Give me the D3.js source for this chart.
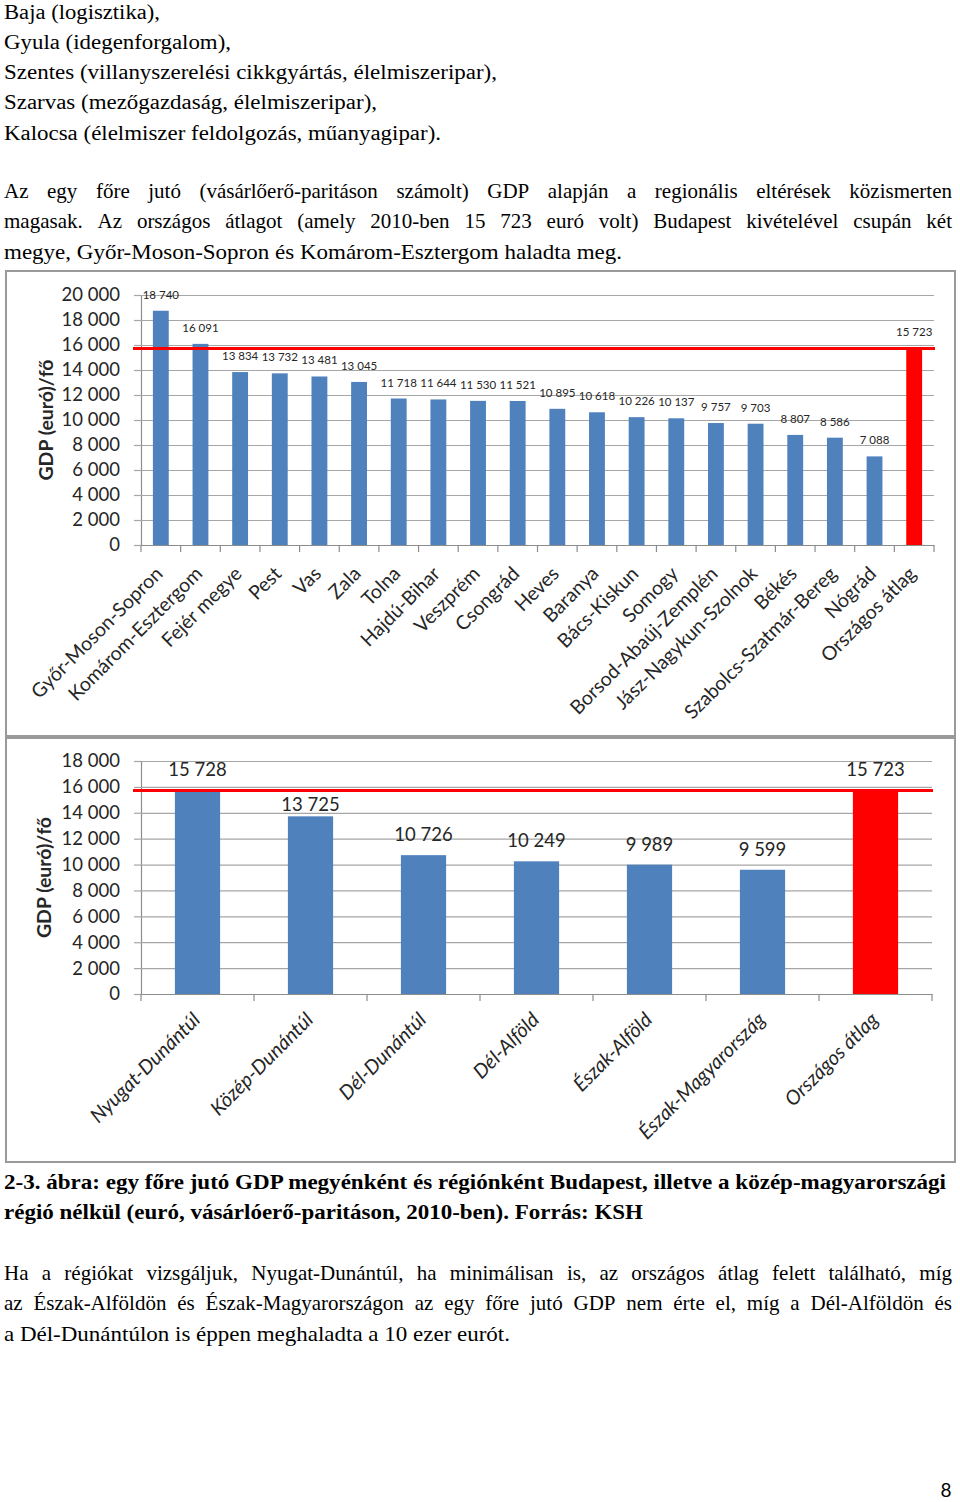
<!DOCTYPE html>
<html><head><meta charset="utf-8">
<script src="https://cdn.jsdelivr.net/npm/d3@7"></script>
<style>
html,body{margin:0;padding:0;background:#fff;}
svg{display:block;}
</style></head><body>
<svg id="page" width="960" height="1502"></svg>
<script>
// ---------- data ----------
const countyNames = ["Győr-Moson-Sopron","Komárom-Esztergom","Fejér megye","Pest","Vas","Zala","Tolna","Hajdú-Bihar","Veszprém","Csongrád","Heves","Baranya","Bács-Kiskun","Somogy","Borsod-Abaúj-Zemplén","Jász-Nagykun-Szolnok","Békés","Szabolcs-Szatmár-Bereg","Nógrád","Országos átlag"];
const countyValues = [18740,16091,13834,13732,13481,13045,11718,11644,11530,11521,10895,10618,10226,10137,9757,9703,8807,8586,7088,15723];
const countyTicks = [0,2000,4000,6000,8000,10000,12000,14000,16000,18000,20000];

const regionNames = ["Nyugat-Dunántúl","Közép-Dunántúl","Dél-Dunántúl","Dél-Alföld","Észak-Alföld","Észak-Magyarország","Országos átlag"];
const regionValues = [15728,13725,10726,10249,9989,9599,15723];
const regionTicks = [0,2000,4000,6000,8000,10000,12000,14000,16000,18000];

const nationalAverage = 15723;
const yTitle = "GDP (euró)/fő";

const introLines = ["Baja (logisztika),","Gyula (idegenforgalom),","Szentes (villanyszerelési cikkgyártás, élelmiszeripar),","Szarvas (mezőgazdaság, élelmiszeripar),","Kalocsa (élelmiszer feldolgozás, műanyagipar)."];
const para1Lines = ["Az egy főre jutó (vásárlőerő-paritáson számolt) GDP alapján a regionális eltérések közismerten","magasak. Az országos átlagot (amely 2010-ben 15 723 euró volt) Budapest kivételével csupán két","megye, Győr-Moson-Sopron és Komárom-Esztergom haladta meg."];
const captionLines = ["2-3. ábra: egy főre jutó GDP megyénként és régiónként Budapest, illetve a közép-magyarországi","régió nélkül (euró, vásárlóerő-paritáson, 2010-ben). Forrás: KSH"];
const para2Lines = ["Ha a régiókat vizsgáljuk, Nyugat-Dunántúl, ha minimálisan is, az országos átlag felett található, míg","az Észak-Alföldön és Észak-Magyarországon az egy főre jutó GDP nem érte el, míg a Dél-Alföldön és","a Dél-Dunántúlon is éppen meghaladta a 10 ezer eurót."];
const pageNumber = "8";

// ---------- drawing ----------
const svg = d3.select('#page');
svg.append('rect').attr('width',960).attr('height',1502).attr('fill','#fff');
const fmt = d3.formatLocale({decimal:',', thousands:'\u00a0', grouping:[3], currency:['','']}).format(',d');
const BLUE = '#4f81bd', RED = '#ff0000';
const CHART_FONT = 'Lato, "Open Sans", sans-serif';

function textBlock(lines, startBaseline, opts){
  lines.forEach((line, i) => {
    const yb = startBaseline + i*30.3;
    const t = svg.append('text')
      .attr('x', 4).attr('y', yb)
      .attr('font-family','"Liberation Serif","Times New Roman",serif')
      .attr('font-size', opts.size || 21)
      .attr('font-weight', opts.bold ? 'bold' : 'normal')
      .attr('fill','#000');
    const target = opts.widths[i];
    if (opts.justify && opts.justify[i]) {
      const words = line.split(' ');
      const spans = words.map(w => t.append('tspan').text(w));
      const widths = spans.map(s => s.node().getComputedTextLength());
      const sum = d3.sum(widths);
      const gap = (target - sum) / (words.length - 1);
      let cx = 4;
      spans.forEach((s, k) => { s.attr('x', cx); cx += widths[k] + gap; });
    } else {
      t.text(line);
      t.attr('textLength', target).attr('lengthAdjust','spacingAndGlyphs');
    }
  });
}

textBlock(introLines, 18.5, {size:20.5, widths:[156,227,493,373,437]});
textBlock(para1Lines, 198, {widths:[948,948,618], justify:[true,true,false]});
textBlock(captionLines, 1189, {bold:true, widths:[942,639]});
textBlock(para2Lines, 1280, {widths:[948,948,506], justify:[true,true,false]});

svg.append('text').attr('x',946).attr('y',1497).attr('text-anchor','middle')
  .attr('font-family',CHART_FONT).attr('font-size',19).attr('fill','#000').text(pageNumber);

function drawChart(o){
  const g = svg.append('g');
  g.append('rect').attr('x',o.frame[0]).attr('y',o.frame[1]).attr('width',o.frame[2]).attr('height',o.frame[3])
    .attr('fill','#fff').attr('stroke','#9a9a9a').attr('stroke-width',2);

  const x = d3.scaleBand().domain(o.names).range([o.left,o.right]).paddingInner(0.6).paddingOuter(0.3);
  const y = d3.scaleLinear().domain([0, d3.max(o.ticks)]).range([o.bottom,o.top]);
  const w = o.right - o.left;

  // y axis + gridlines
  const ya = g.append('g').attr('transform',`translate(${o.left},0)`)
    .call(d3.axisLeft(y).tickValues(o.ticks).tickFormat(fmt).tickSizeInner(7).tickSizeOuter(0).tickPadding(14));
  ya.select('.domain').attr('stroke','#8c8c8c').attr('stroke-width',1.2);
  ya.selectAll('.tick line').attr('stroke','#a6a6a6').attr('stroke-width',1.2);
  ya.selectAll('.tick').append('line').attr('x1',0).attr('x2',w).attr('stroke','#a6a6a6').attr('stroke-width',1.2);
  ya.selectAll('.tick text').attr('font-family',CHART_FONT).attr('font-size',18.5).attr('fill','#262626');

  // x axis
  const xa = g.append('g').attr('transform',`translate(0,${o.bottom})`)
    .call(d3.axisBottom(x).tickSize(0).tickPadding(0));
  xa.select('.domain').attr('stroke','#8c8c8c').attr('stroke-width',1.2);
  xa.selectAll('.tick text')
    .attr('x',0).attr('y',0).attr('dy',0)
    .attr('transform',`translate(${o.labelDx},${o.labelDy}) rotate(-45)`)
    .attr('text-anchor','end')
    .attr('font-family',CHART_FONT).attr('font-size',o.xLabelSize)
    .attr('font-style',o.italic ? 'italic' : 'normal')
    .attr('fill','#262626');
  const step = x.step();
  g.append('g').selectAll('line').data(d3.range(o.names.length+1)).join('line')
    .attr('x1',i=>o.left+i*step).attr('x2',i=>o.left+i*step)
    .attr('y1',o.bottom).attr('y2',o.bottom+7)
    .attr('stroke','#8c8c8c').attr('stroke-width',1.2);

  // bars
  const last = o.names.length - 1;
  g.append('g').selectAll('rect').data(o.values).join('rect')
    .attr('x',(d,i)=>x(o.names[i])).attr('width',x.bandwidth())
    .attr('y',d=>y(d)).attr('height',d=>o.bottom - y(d))
    .attr('fill',(d,i)=> i===last ? RED : BLUE);

  // average line
  const avgY = y(nationalAverage);
  g.append('line').attr('x1',o.left-8).attr('x2',o.right+1)
    .attr('y1',avgY).attr('y2',avgY)
    .attr('stroke',RED).attr('stroke-width',3);

  // value labels (moved just above the bar if they would cross the average line)
  const labelBase = d => {
    const yb = y(d) - o.valueOff;
    const top = yb - o.valueSize*0.75;
    if (y(d) > avgY + 2 && avgY > top - 2 && avgY < yb + 2) return y(d) - 5;
    return yb;
  };
  g.append('g').selectAll('text').data(o.values).join('text')
    .attr('x',(d,i)=>x(o.names[i]) + x.bandwidth()/2)
    .attr('y',d=>labelBase(d))
    .attr('text-anchor','middle')
    .attr('font-family',CHART_FONT).attr('font-size',o.valueSize).attr('fill','#262626')
    .text(d=>fmt(d));

  // y title
  g.append('text')
    .attr('transform',`translate(${o.titleX},${(o.top+o.bottom)/2}) rotate(-90)`)
    .attr('text-anchor','middle').attr('dy','0.35em')
    .attr('font-family',CHART_FONT).attr('font-size',19.5).attr('font-weight','bold').attr('fill','#262626')
    .text(yTitle);
}

drawChart({names:countyNames, values:countyValues, ticks:countyTicks,
  frame:[6,271,949,465], left:141, right:934, top:295, bottom:545,
  valueSize:11.5, valueOff:12, xLabelSize:19.5, italic:false, labelDx:3, labelDy:30, titleX:46});

drawChart({names:regionNames, values:regionValues, ticks:regionTicks,
  frame:[6,738,949,424], left:141, right:932, top:761, bottom:994,
  valueSize:18.5, valueOff:14, xLabelSize:20, italic:true, labelDx:4, labelDy:27, titleX:44});
</script>
</body></html>
